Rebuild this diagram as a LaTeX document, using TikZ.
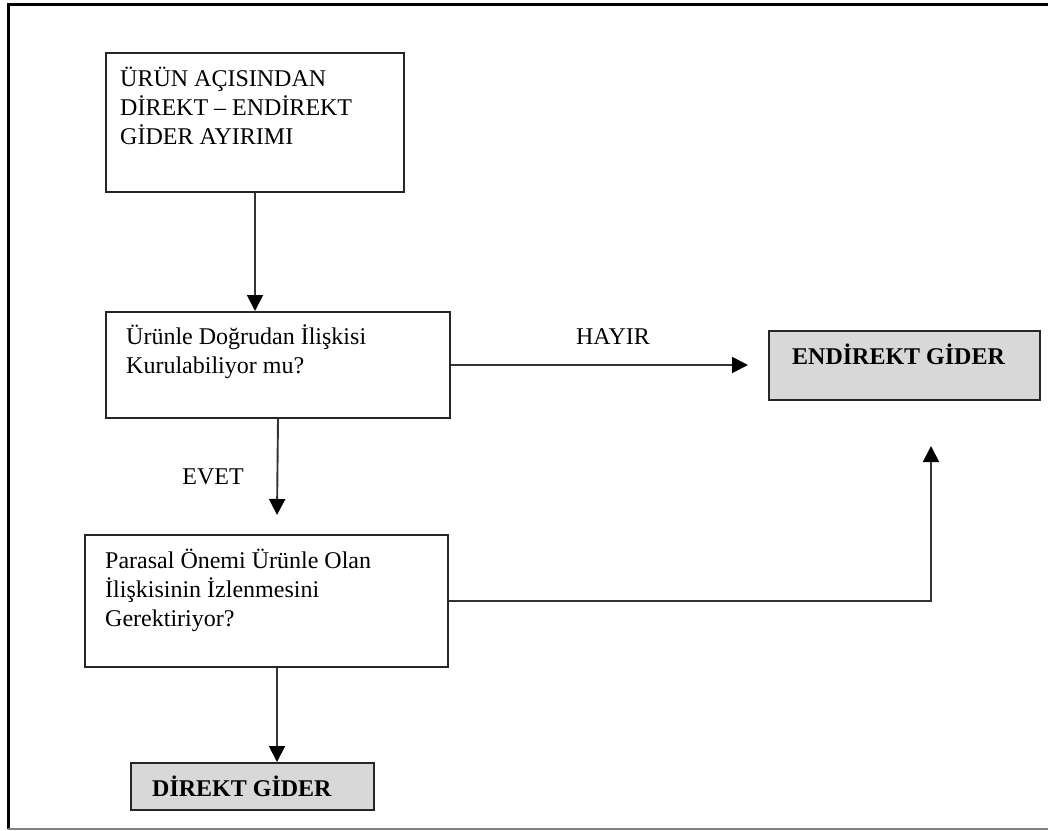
\documentclass[tikz,border=0pt]{standalone}
\usepackage{fontspec}
\setmainfont{Liberation Serif}
\usetikzlibrary{arrows.meta}
\definecolor{resultgray}{HTML}{D8D8D8}
\newcommand{\boxlines}[1]{\parbox[t]{400pt}{#1}}

\begin{document}
\begin{tikzpicture}[x=1pt,y=-1pt,
		stepbox/.style={draw=black!85,line width=2pt,anchor=north west,inner sep=0pt},
		resultbox/.style={stepbox,fill=resultgray},
		boxtext/.style={anchor=base west,inner sep=0pt,font=\fontsize{24}{29}\selectfont},
		flowlabel/.style={anchor=base,inner sep=0pt,font=\fontsize{24}{29}\selectfont},
		flow/.style={draw=black!80,line width=1.9pt,-{Triangle[length=16pt,width=16pt,color=black]}}]
			\useasboundingbox (0,0) rectangle (1048,830);
			% page frame
			\draw[line width=3pt] (1048,4.5)--(8,4.5)--(8,829);
			\draw[gray,line width=2.5pt] (8,829)--(1048,829);
			% boxes
			\node[stepbox,minimum width=298pt,minimum height=139pt] (b1) at (105,52) {};
			\node[stepbox,minimum width=344pt,minimum height=106pt] (b2) at (105,311) {};
			\node[stepbox,minimum width=363pt,minimum height=132pt] (b3) at (84,534) {};
			\node[resultbox,minimum width=271pt,minimum height=69pt] (endirekt) at (768,330) {};
			\node[resultbox,minimum width=243pt,minimum height=47pt] (direkt) at (130,762) {};
			% box texts
			\node[boxtext] (t1) at ([shift={(15,34)}]b1.north west) {\boxlines{ÜRÜN AÇISINDAN\\DİREKT – ENDİREKT\\GİDER AYIRIMI}};
			\node[boxtext] (t2) at ([shift={(21,33)}]b2.north west) {\boxlines{Ürünle Doğrudan İlişkisi\\Kurulabiliyor mu?}};
			\node[boxtext] (t3) at ([shift={(21,34)}]b3.north west) {\boxlines{Parasal Önemi Ürünle Olan\\İlişkisinin İzlenmesini\\Gerektiriyor?}};
			\node[boxtext] (t4) at ([shift={(24,34)}]endirekt.north west) {\textbf{ENDİREKT GİDER}};
			\node[boxtext] (t5) at ([shift={(22,34)}]direkt.north west) {\textbf{DİREKT GİDER}};
			% connectors
			\coordinate (hayirend) at (748,364);
			\coordinate (evetend) at (277,515);
			\coordinate (upend) at (931,446);
			\draw[flow] (b1.south)--(b1.south |- b2.north);
			\draw[flow] (b2.east)--(hayirend |- b2.east);
			\draw[flow] (b2.south)--(evetend);
			\draw[flow] (b3.south -| evetend)--(direkt.north -| evetend);
			\draw[flow] (b3.east) -| (upend);
			\node[flowlabel] (hayir) at (613,344) {HAYIR};
			\node[flowlabel] (evet) at (213,484) {EVET};
		\end{tikzpicture}
\end{document}
